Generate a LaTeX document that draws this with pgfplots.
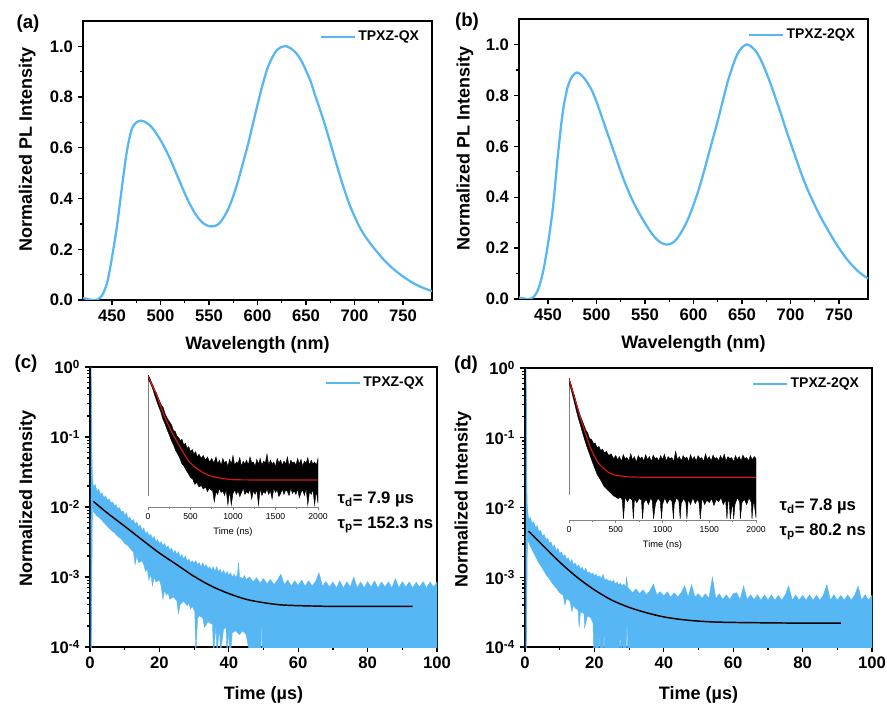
\documentclass[border=0pt]{standalone}
\usepackage{fontspec}
\setmainfont{Liberation Sans}
\usepackage{pgfplots}
\pgfplotsset{compat=1.18}

\definecolor{plblue}{RGB}{87,183,245}
\definecolor{fitred}{RGB}{205,25,25}

% common style of the four big panels
\pgfplotsset{
  panel/.style={
    scale only axis, anchor=south west,
    tick align=outside, xtick pos=left, ytick pos=left,
    axis line style={line width=1.1pt},
    tick style={black, line width=0.9pt},
    major tick length=4pt, minor tick length=2.2pt,
    /pgf/number format/assume math mode=true,
    tick label style={font=\bfseries\fontsize{12.5}{14}\selectfont},
    label style={font=\bfseries\fontsize{13.5}{16}\selectfont},
    legend style={draw=none, fill=none, at={(0.975,0.98)}, anchor=north east,
      font=\bfseries\fontsize{10.5}{12}\selectfont, inner sep=1pt},
    legend image code/.code={\draw[##1] (0pt,0pt) -- (25pt,0pt);},
    legend cell align=left,
  },
  insetax/.style={
    scale only axis, anchor=south west,
    axis y line=none, axis x line*=bottom,
    x axis line style={gray, line width=0.4pt},
    tick align=outside, tick style={gray, line width=0.4pt},
    major tick length=2pt, minor tick length=1.2pt,
    xtick={0,500,...,2000}, minor x tick num=1,
    /pgf/number format/assume math mode=true,
    /pgf/number format/1000 sep={},
    xticklabel style={font=\fontsize{6.5}{7}\selectfont, yshift=1pt},
    xlabel={Time (ns)},
  },
}

\begin{document}
\begin{tikzpicture}[x=0.75pt,y=0.75pt]
\useasboundingbox (0,0) rectangle (887,706);

% ---------------- (a) PL spectrum TPXZ-QX
\begin{axis}[panel, at={(62.25pt,304.5pt)}, width=261.75pt, height=209.25pt,
  xmin=420, xmax=780, ymin=0, ymax=1.1,
  xtick={450,500,...,750}, minor x tick num=1,
  ytick={0,0.2,...,1.0}, minor y tick num=1,
  yticklabel style={/pgf/number format/.cd, fixed, fixed zerofill, precision=1},
  xlabel={Wavelength (nm)}, ylabel={Normalized PL Intensity},
  xlabel style={at={(axis description cs:0.5,-0.161)}, anchor=center},
  ylabel style={at={(axis description cs:-0.160,0.538)}, anchor=center}]
\addplot[plblue, line width=1.7pt, smooth] coordinates {
(420,0.008) (425,0.003) (430,0.0) (435,0.002) (440,0.02) (445,0.07) (450,0.17)
(455,0.29) (460,0.44) (465,0.58) (470,0.67) (475,0.70) (480,0.707) (485,0.70)
(490,0.685) (495,0.66) (500,0.63) (505,0.595) (510,0.555) (515,0.51) (520,0.465)
(525,0.42) (530,0.38) (535,0.345) (540,0.318) (545,0.30) (550,0.291) (555,0.291)
(560,0.30) (565,0.325) (570,0.36) (575,0.41) (580,0.47) (585,0.54) (590,0.61)
(595,0.69) (600,0.77) (605,0.845) (610,0.91) (615,0.955) (620,0.985) (625,0.998)
(630,1.0) (635,0.99) (640,0.973) (645,0.945) (650,0.905) (655,0.86) (660,0.80)
(665,0.745) (670,0.685) (675,0.62) (680,0.555) (685,0.49) (690,0.43) (695,0.375)
(700,0.33) (705,0.29) (710,0.257) (715,0.23) (720,0.205) (730,0.16) (740,0.123)
(750,0.093) (760,0.068) (770,0.049) (780,0.035)};
\addlegendentry{TPXZ-QX}
\end{axis}

% ---------------- (b) PL spectrum TPXZ-2QX
\begin{axis}[panel, at={(389.25pt,305.25pt)}, width=261.75pt, height=210pt,
  xmin=420, xmax=780, ymin=0, ymax=1.1,
  xtick={450,500,...,750}, minor x tick num=1,
  ytick={0,0.2,...,1.0}, minor y tick num=1,
  yticklabel style={/pgf/number format/.cd, fixed, fixed zerofill, precision=1},
  xlabel={Wavelength (nm)}, ylabel={Normalized PL Intensity},
  xlabel style={at={(axis description cs:0.5,-0.161)}, anchor=center},
  ylabel style={at={(axis description cs:-0.155,0.536)}, anchor=center}]
\addplot[plblue, line width=1.7pt, smooth] coordinates {
(420,0.006) (425,0.002) (430,0.0) (435,0.008) (440,0.04) (445,0.11) (450,0.22)
(455,0.36) (460,0.56) (465,0.73) (470,0.83) (475,0.875) (480,0.89) (485,0.877)
(490,0.853) (495,0.82) (500,0.775) (505,0.72) (510,0.665) (515,0.61) (520,0.555)
(525,0.50) (530,0.45) (535,0.405) (540,0.365) (545,0.33) (550,0.298) (555,0.268)
(560,0.243) (565,0.225) (570,0.215) (575,0.215) (580,0.225) (585,0.248) (590,0.28)
(595,0.32) (600,0.37) (605,0.425) (610,0.49) (615,0.56) (620,0.63) (625,0.70)
(630,0.775) (635,0.85) (640,0.91) (645,0.96) (650,0.988) (655,1.0) (660,0.99)
(665,0.97) (670,0.935) (675,0.89) (680,0.84) (685,0.785) (690,0.73) (695,0.67)
(700,0.615) (705,0.56) (710,0.505) (715,0.455) (720,0.41) (730,0.33) (740,0.262)
(750,0.20) (760,0.148) (770,0.108) (780,0.08)};
\addlegendentry{TPXZ-2QX}
\end{axis}

% ---------------- (c) transient decay TPXZ-QX
\begin{axis}[panel, at={(67.5pt,44.25pt)}, width=260.25pt, height=210pt,
  ymode=log, xmin=0, xmax=100, ymin=1e-4, ymax=1,
  xtick={0,20,...,100}, minor x tick num=1,
  ytick={1e-4,1e-3,1e-2,1e-1,1},
  yticklabels={10\textsuperscript{-4},10\textsuperscript{-3},10\textsuperscript{-2},10\textsuperscript{-1},10\textsuperscript{0}},
  xlabel={Time (µs)}, ylabel={Normalized Intensity},
  xlabel style={at={(axis description cs:0.5,-0.171)}, anchor=center},
  ylabel style={at={(axis description cs:-0.18,0.53)}, anchor=center}]
% noisy data band: upper edge, then lower edge back
\addplot[draw=plblue, fill=plblue, line width=0.3pt, forget plot] coordinates {
(0.25,8e-5) (0.3,1) (0.45,0.5) (0.6,0.04) (0.8,0.025) (1,0.019) (1.5,0.021) (2,0.017)
(2.5,0.018) (3,0.015) (3.5,0.016) (4,0.0135) (4.5,0.0145) (5,0.0125) (5.5,0.013)
(6,0.0115) (6.5,0.0118) (7,0.0105) (7.5,0.0108) (8,0.0095) (8.5,0.0098) (9,0.0085)
(9.5,0.0088) (10,0.0076) (10.5,0.0082) (11,0.0068) (11.5,0.0072) (12,0.0063)
(12.5,0.0066) (13,0.0057) (13.5,0.0061) (14,0.0052) (14.5,0.0055) (15,0.0046)
(15.5,0.005) (16,0.0042) (16.5,0.0044) (17,0.0039) (17.5,0.0041) (18,0.0035)
(18.5,0.0038) (19,0.0032) (19.5,0.0034) (20,0.0030) (20.5,0.0032) (21,0.0028)
(21.5,0.003) (22,0.0026) (22.5,0.0028) (23,0.0024) (23.5,0.0026) (24,0.0022)
(24.5,0.0024) (25,0.0021) (25.5,0.0023) (26,0.0019) (26.5,0.0021) (27,0.0018)
(27.5,0.002) (28,0.0017) (28.5,0.0018) (29,0.0016) (29.5,0.0017)
(30,0.0016) (30.5,0.0017) (31,0.0015) (31.5,0.0016) (32,0.0014) (32.5,0.0016)
(33,0.00138) (33.5,0.0015) (34,0.00132) (34.5,0.0014) (35,0.00125) (35.5,0.0014)
(36,0.0012) (36.5,0.0014) (37,0.00118) (37.5,0.0013) (38,0.00112) (38.5,0.00125)
(39,0.00108) (39.5,0.0012) (40,0.00105) (40.5,0.00115) (41,0.001) (41.5,0.0011)
(42,0.00098) (42.5,0.0011) (42.8,0.0016) (43.1,0.001) (44,0.00095) (44.5,0.00105)
(45,0.00092) (46,0.001) (47,0.00085) (48,0.00098) (49,0.00082) (50,0.00095)
(51,0.0008) (52,0.00092) (53,0.00078) (54,0.0009) (55,0.0011) (56,0.00078)
(57,0.0009) (58,0.00075) (59,0.00088) (60,0.00076) (61,0.0009) (62,0.00074)
(63,0.00088) (64,0.00075) (65,0.00086) (66,0.00115) (67,0.00074) (68,0.00086)
(69,0.00072) (70,0.00085) (71,0.0007) (72,0.00088) (73,0.0007) (74,0.00085)
(75,0.00072) (76,0.001) (77,0.0007) (78,0.00085) (79,0.0007) (80,0.00086)
(81,0.00072) (82,0.00088) (83,0.0007) (84,0.00085) (85,0.00072) (86,0.00085)
(87,0.0007) (88,0.00095) (89,0.0007) (90,0.00086) (91,0.00072) (92,0.00085)
(93,0.0007) (94,0.00084) (95,0.00072) (96,0.00086) (97,0.0007) (98,0.00085)
(99,0.00072) (100,0.00085)
(100,8e-5) (49.6,8e-5) (49.5,1.9e-4) (49.3,1.9e-4) (49.2,8e-5) (46,8e-5)
(45,1.5e-4) (44,1.7e-4) (43,1.5e-4) (42,1.7e-4) (41,1.6e-4) (40.5,8e-5) (40.2,8e-5)
(40,1.8e-4) (39.5,8e-5) (39.2,1.9e-4) (38.5,1.8e-4) (37.6,8e-5) (37.3,1.9e-4)
(36.6,8e-5) (36.3,2e-4) (35.6,8e-5) (35.3,2.1e-4) (34,2.3e-4) (33,1.9e-4)
(32.5,2.6e-4) (31.5,2.8e-4) (31,2.6e-4) (30.5,8e-5) (30.2,3.2e-4) (29.5,3.8e-4)
(29,3.5e-4) (28.5,4.2e-4) (28,3.9e-4) (27,4.5e-4) (26,4.1e-4) (25.5,3e-4)
(25,4.6e-4) (24,5.2e-4) (23,4.8e-4) (22.5,6e-4) (22,5.5e-4) (21.5,6.5e-4)
(21,4.8e-4) (20.5,7.5e-4) (20,9e-4) (19,8.5e-4) (18.5,1e-3) (18,7.5e-4)
(17.5,1.1e-3) (17,9e-4) (16.5,1.3e-3) (16,1.2e-3) (15.5,1.5e-3) (15,1.7e-3)
(14,1.6e-3) (13.5,2.0e-3) (13,1.5e-3) (12.5,2.3e-3) (12,2.4e-3) (11,2.8e-3)
(10,3e-3) (9,3.5e-3) (8,3.8e-3) (7,4.3e-3) (6,4.7e-3) (5,5.3e-3) (4,6e-3)
(3,6.8e-3) (2,7.5e-3) (1,8.5e-3) (0.7,0.012) (0.4,8e-5)};
\addlegendimage{plblue, line width=1.8pt}
\addlegendentry{TPXZ-QX}
% fit
\addplot[black, line width=1.1pt, smooth, forget plot] coordinates {
(1,0.012) (5,0.0082) (10,0.0053) (15,0.0034) (20,0.0022) (25,0.0015) (30,0.00102)
(35,0.00074) (40,0.00058) (45,0.00048) (50,0.00043) (55,0.0004) (60,0.00039)
(70,0.00038) (80,0.00038) (93,0.00038)};
\end{axis}

% ---------------- (d) transient decay TPXZ-2QX
\begin{axis}[panel, at={(393.75pt,44.25pt)}, width=260.25pt, height=209.25pt,
  ymode=log, xmin=0, xmax=100, ymin=1e-4, ymax=1,
  xtick={0,20,...,100}, minor x tick num=1,
  ytick={1e-4,1e-3,1e-2,1e-1,1},
  yticklabels={10\textsuperscript{-4},10\textsuperscript{-3},10\textsuperscript{-2},10\textsuperscript{-1},10\textsuperscript{0}},
  xlabel={Time (µs)}, ylabel={Normalized Intensity},
  xlabel style={at={(axis description cs:0.5,-0.171)}, anchor=center},
  ylabel style={at={(axis description cs:-0.179,0.53)}, anchor=center}]
\addplot[draw=plblue, fill=plblue, line width=0.3pt, forget plot] coordinates {
(0.25,8e-5) (0.3,1) (0.45,0.3) (0.6,0.012) (0.8,0.009) (1,0.0068) (1.5,0.0072)
(2,0.006) (2.5,0.0062) (3,0.0052) (3.5,0.0055) (4,0.0045) (4.5,0.0047) (5,0.0039)
(5.5,0.0041) (6,0.0035) (6.5,0.0036) (7,0.0031) (7.5,0.0032) (8,0.0027) (8.5,0.0029)
(9,0.0024) (9.5,0.0026) (10,0.0022) (10.5,0.0023) (11,0.002) (11.5,0.0021)
(12,0.0018) (12.5,0.0019) (13,0.0016) (13.5,0.0018) (14,0.0015) (14.5,0.0016)
(15,0.0014) (15.5,0.0015) (16,0.0013) (16.5,0.0014) (17,0.0012) (17.5,0.00135)
(18,0.00115) (18.5,0.0012) (19,0.0011) (19.5,0.00115) (20,0.00105) (20.5,0.0011)
(21,0.001) (21.5,0.00105) (22,0.00095) (22.5,0.0011) (23,0.0009) (23.5,0.00095)
(24,0.00088) (24.5,0.0009) (25,0.00085) (25.5,0.0009) (26,0.0008) (26.5,0.00085)
(27,0.00078) (27.5,0.00082) (28,0.00075) (28.5,0.0008) (29,0.00072) (29.3,0.001)
(29.6,0.00072) (30,0.00068) (31,0.0006) (32,0.00068) (33,0.00058) (34,0.00066)
(35,0.00056) (36,0.00064) (37,0.0008) (38,0.00056) (39,0.00062) (40,0.00054)
(41,0.00062) (42,0.00052) (43,0.0006) (44,0.00052) (45,0.0006) (46,0.00075)
(47,0.00052) (48,0.00078) (49,0.00052) (50,0.00058) (51,0.0005) (52,0.00058)
(53,0.0005) (54,0.001) (55,0.0005) (56,0.00058) (57,0.00048) (58,0.00056)
(59,0.00048) (60,0.00058) (61,0.0006) (62,0.00048) (63,0.00075) (64,0.00048)
(65,0.00056) (66,0.00048) (67,0.00056) (68,0.00047) (69,0.00056) (70,0.00047)
(71,0.00056) (72,0.00047) (73,0.00055) (74,0.00047) (75,0.00056) (76,0.00075)
(77,0.00047) (78,0.00056) (79,0.00047) (80,0.00055) (81,0.00047) (82,0.00056)
(83,0.00047) (84,0.00055) (85,0.00047) (86,0.00056) (87,0.00078) (88,0.00047)
(89,0.00056) (90,0.00047) (91,0.00055) (92,0.00047) (93,0.00056) (94,0.00047)
(95,0.00055) (96,0.00075) (97,0.00047) (98,0.00056) (99,0.00047) (100,0.00055)
(100,8e-5) (29.6,8e-5) (29.5,1.9e-4) (29.3,1.9e-4) (29.2,8e-5) (28.2,8e-5)
(28.1,1.9e-4) (27.9,8e-5) (27.5,8e-5) (27.4,1.9e-4) (27.2,8e-5) (22.9,8e-5)
(22.8,1.9e-4) (22.6,8e-5) (21.5,8e-5) (21.4,1.9e-4) (21.2,8e-5) (20.5,8e-5)
(20.4,1.9e-4) (20.2,8e-5) (19.8,8e-5) (19.6,2.2e-4) (19,2.6e-4) (18,2.8e-4)
(17.2,1.9e-4) (17,3e-4) (16,3.2e-4) (15.6,1.9e-4) (15.3,3.4e-4) (14.5,3.6e-4)
(14,4e-4) (13.5,3.2e-4) (13,4.5e-4) (12,5e-4) (11.5,4e-4) (11,5.5e-4) (10,6e-4)
(9,7e-4) (8,8e-4) (7,9.5e-4) (6,1.1e-3) (5,1.35e-3) (4,1.6e-3) (3,2e-3)
(2,2.5e-3) (1,3.2e-3) (0.7,4e-3) (0.4,8e-5)};
\addlegendimage{plblue, line width=1.8pt}
\addlegendentry{TPXZ-2QX}
\addplot[black, line width=1.1pt, smooth, forget plot] coordinates {
(1,0.0046) (5,0.0029) (10,0.00165) (15,0.001) (20,0.00066) (25,0.00047)
(30,0.00037) (35,0.00031) (40,0.00027) (45,0.000248) (50,0.000235) (55,0.000228)
(60,0.000225) (70,0.000222) (80,0.00022) (91,0.00022)};
\end{axis}

% ---------------- inset of (c): prompt decay
\begin{axis}[insetax, at={(111pt,149.25pt)}, width=127.5pt, height=101.25pt,
  xmin=0, xmax=2000, ymode=log, ymin=1e-3, ymax=1,
  xlabel style={font=\fontsize{7}{8}\selectfont, at={(axis description cs:0.5,-0.185)}, anchor=center}]
\addplot[gray, line width=0.5pt] coordinates {(6,0.0018) (6,0.86)};
\addplot[draw=black, fill=black, line width=0.3pt] coordinates {
(0,0.85) (20,0.75) (40,0.6) (60,0.5) (80,0.4) (100,0.34) (120,0.27) (140,0.22)
(160,0.18) (180,0.16) (200,0.12) (220,0.1) (240,0.085) (260,0.075) (280,0.065)
(300,0.05) (320,0.048) (340,0.038) (360,0.035) (380,0.03) (400,0.032) (420,0.024)
(440,0.026) (460,0.02) (480,0.022) (500,0.017) (520,0.019) (540,0.015) (560,0.017)
(580,0.013) (600,0.015) (625,0.012) (650,0.014) (675,0.011) (700,0.013)
(725,0.010) (750,0.012) (775,0.0095)
(800,0.013) (820,0.009) (840,0.011) (860,0.0085) (880,0.012) (900,0.0095)
(920,0.0105) (940,0.008) (960,0.0115) (980,0.009) (1000,0.014) (1020,0.0085)
(1040,0.010) (1060,0.0095) (1080,0.0125) (1100,0.008) (1120,0.0105) (1140,0.009)
(1160,0.011) (1180,0.0085) (1200,0.013) (1220,0.0095) (1240,0.010) (1260,0.008)
(1280,0.0115) (1300,0.009) (1320,0.012) (1340,0.0085) (1360,0.0105) (1380,0.0095)
(1400,0.015) (1420,0.0085) (1440,0.011) (1460,0.009) (1480,0.010) (1500,0.008)
(1520,0.012) (1540,0.0095) (1560,0.011) (1580,0.0085) (1600,0.0105) (1620,0.009)
(1640,0.013) (1660,0.008) (1680,0.011) (1700,0.0095) (1720,0.010) (1740,0.0085)
(1760,0.012) (1780,0.009) (1800,0.0115) (1820,0.008) (1840,0.0105) (1860,0.0095)
(1880,0.0125) (1900,0.0085) (1920,0.011) (1940,0.009) (1960,0.010) (1980,0.0085)
(2000,0.012)
(2000,0.0012) (1980,0.0023) (1960,0.0011) (1940,0.0025) (1920,0.0019) (1900,0.0022)
(1880,0.0011) (1860,0.0026) (1840,0.0018) (1820,0.0024) (1800,0.0021) (1780,0.0016)
(1760,0.0025) (1740,0.0019) (1720,0.0023) (1700,0.002) (1680,0.0026) (1660,0.0018)
(1640,0.0022) (1620,0.0024) (1600,0.0019) (1580,0.0025) (1560,0.002) (1540,0.0017)
(1520,0.0024) (1500,0.0021) (1480,0.0026) (1460,0.0015) (1440,0.0023) (1420,0.0019)
(1400,0.0025) (1380,0.002) (1360,0.0022) (1340,0.0018) (1320,0.0026) (1300,0.0011)
(1280,0.0024) (1260,0.0019) (1240,0.0023) (1220,0.0015) (1200,0.0025) (1180,0.002)
(1160,0.0022) (1140,0.0019) (1120,0.0026) (1100,0.0021) (1080,0.0017) (1060,0.0023)
(1040,0.0019) (1020,0.0024) (1000,0.002) (980,0.0011) (960,0.0023) (940,0.0011)
(920,0.0024) (900,0.0018) (880,0.0023) (860,0.0021) (840,0.0026) (820,0.0019)
(800,0.0022) (780,0.0013) (760,0.0023) (740,0.0024) (720,0.0026) (700,0.0022)
(675,0.0028) (650,0.0025) (625,0.003) (600,0.0028) (575,0.0035) (550,0.0032)
(525,0.0042) (500,0.0045) (475,0.0055) (450,0.0065) (425,0.008) (400,0.009)
(375,0.012) (350,0.015) (325,0.018) (300,0.024) (275,0.03) (250,0.04) (225,0.052)
(200,0.07) (175,0.09) (150,0.13) (125,0.17) (100,0.23) (75,0.32) (50,0.45) (25,0.58)
(0,0.7)};
\addplot[fitred, line width=0.9pt, smooth] coordinates {
(0,0.81) (50,0.5) (102,0.31) (180,0.12) (278,0.047) (376,0.022) (470,0.011)
(573,0.0072) (670,0.0055) (768,0.0047) (965,0.0041) (1200,0.004) (2000,0.004)};
\end{axis}

% ---------------- inset of (d)
\begin{axis}[insetax, at={(426.75pt,139.5pt)}, width=140.25pt, height=108pt,
  xmin=0, xmax=2000, ymode=log, ymin=1e-3, ymax=1,
  xlabel style={font=\fontsize{7}{8}\selectfont, at={(axis description cs:0.5,-0.174)}, anchor=center}]
\addplot[gray, line width=0.5pt] coordinates {(6,0.0033) (6,0.9)};
\addplot[draw=black, fill=black, line width=0.3pt] coordinates {
(0,0.9) (20,0.7) (40,0.5) (60,0.38) (80,0.27) (100,0.2) (120,0.15) (140,0.12)
(160,0.095) (180,0.075) (200,0.065) (220,0.05) (240,0.048) (260,0.04) (280,0.04)
(300,0.032) (320,0.034) (340,0.028) (360,0.03) (380,0.025) (400,0.027) (425,0.022)
(450,0.024) (475,0.019)
(500,0.022) (520,0.018) (540,0.021) (560,0.0165) (580,0.023) (600,0.019) (620,0.02)
(640,0.017) (660,0.024) (680,0.018) (700,0.021) (720,0.016) (740,0.022) (760,0.019)
(780,0.0205) (800,0.017) (820,0.023) (840,0.018) (860,0.021) (880,0.0165)
(900,0.0225) (920,0.019) (940,0.02) (960,0.017) (980,0.022) (1000,0.018)
(1020,0.0235) (1040,0.017) (1060,0.021) (1080,0.019) (1100,0.02) (1120,0.0165)
(1140,0.027) (1160,0.018) (1180,0.021) (1200,0.017) (1220,0.022) (1240,0.019)
(1260,0.0205) (1280,0.0165) (1300,0.023) (1320,0.018) (1340,0.021) (1360,0.017)
(1380,0.022) (1400,0.019) (1420,0.02) (1440,0.0165) (1460,0.024) (1480,0.018)
(1500,0.021) (1520,0.017) (1540,0.0225) (1560,0.019) (1580,0.02) (1600,0.017)
(1620,0.022) (1640,0.018) (1660,0.0235) (1680,0.017) (1700,0.021) (1720,0.019)
(1740,0.02) (1760,0.0165) (1780,0.022) (1800,0.018) (1820,0.021) (1840,0.017)
(1860,0.0225) (1880,0.019) (1900,0.02) (1920,0.017) (1940,0.022) (1960,0.018)
(1980,0.021) (2000,0.019)
(2000,0.0011) (1975,0.0027) (1957,0.00105) (1950,0.0023) (1925,0.0029) (1900,0.0021)
(1875,0.0027) (1850,0.0023) (1832,0.00105) (1825,0.0024) (1800,0.0029) (1775,0.0021)
(1761,0.00105) (1750,0.0024) (1725,0.00105) (1712,0.0027) (1700,0.0023)
(1689,0.00105) (1675,0.0026) (1650,0.0021) (1625,0.0029) (1600,0.0024) (1575,0.0027)
(1550,0.002) (1525,0.0028) (1500,0.0023) (1475,0.0026) (1450,0.0021) (1425,0.0029)
(1404,0.00105) (1390,0.0023) (1375,0.0027) (1350,0.0022) (1325,0.0029) (1300,0.0021)
(1275,0.0027) (1261,0.00105) (1250,0.0023) (1225,0.0028) (1200,0.0022) (1189,0.00105)
(1175,0.0025) (1150,0.0029) (1125,0.0021) (1118,0.00105) (1100,0.0025) (1075,0.0027)
(1050,0.0022) (1025,0.0029) (1000,0.0021) (990,0.00105) (975,0.0025) (950,0.0028)
(925,0.0022) (904,0.00105) (890,0.0025) (875,0.0029) (850,0.0021) (825,0.0027)
(800,0.0023) (786,0.00105) (775,0.0026) (750,0.0028) (725,0.0023) (700,0.0028)
(689,0.00105) (675,0.0026) (650,0.0029) (625,0.0024) (600,0.003) (582,0.00105)
(570,0.0026) (550,0.003) (525,0.0028) (500,0.003) (475,0.0032) (450,0.0036)
(425,0.004) (400,0.0045) (375,0.005) (350,0.0062) (325,0.0075) (300,0.009)
(275,0.012) (250,0.016) (225,0.022) (200,0.03) (175,0.042) (150,0.06) (125,0.09)
(100,0.13) (75,0.2) (50,0.32) (25,0.5) (0,0.72)};
\addplot[fitred, line width=0.9pt, smooth] coordinates {
(0,0.85) (30,0.55) (59,0.36) (118,0.142) (170,0.07) (225,0.0336) (280,0.02)
(332,0.014) (439,0.0094) (546,0.0083) (796,0.0078) (2000,0.0078)};
\end{axis}

% panel letters and fitted lifetimes
\begin{scope}[font=\bfseries\fontsize{14}{16}\selectfont]
\node at (28,682) {(a)};
\node at (467,684) {(b)};
\node at (26,342) {(c)};
\node at (466,341) {(d)};
\end{scope}
\begin{scope}[font=\bfseries\fontsize{12.5}{15}\selectfont]
\node[anchor=west] at (333,207) {τ\textsubscript{d}= 7.9 µs};
\node[anchor=west] at (333,181) {τ\textsubscript{p}= 152.3 ns};
\node[anchor=west] at (775,200) {τ\textsubscript{d}= 7.8 µs};
\node[anchor=west] at (775,174) {τ\textsubscript{p}= 80.2 ns};
\end{scope}
\end{tikzpicture}
\end{document}
